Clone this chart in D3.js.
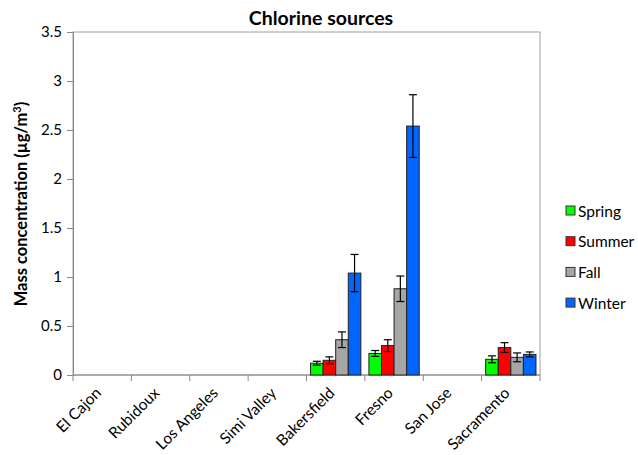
<!DOCTYPE html>
<html>
<head>
<meta charset="utf-8">
<script src="https://cdn.jsdelivr.net/npm/d3@7/dist/d3.min.js"></script>
<style>
  html, body { margin: 0; padding: 0; background: #fff; }
  svg { display: block; font-family: Lato, "Open Sans", sans-serif; }
</style>
</head>
<body>
<svg id="chart" width="638" height="455"></svg>
<script>
// Sites along the x axis
const sites = ["El Cajon", "Rubidoux", "Los Angeles", "Simi Valley", "Bakersfield", "Fresno", "San Jose", "Sacramento"];
const seasons = ["Spring", "Summer", "Fall", "Winter"];
const seasonColors = ["#00ff00", "#ff0000", "#a6a6a6", "#0066ff"];

// Mean chlorine concentration per season (null = no data at that site)
const spring = [null, null, null, null, 0.12, 0.22, null, 0.16];
const summer = [null, null, null, null, 0.15, 0.30, null, 0.28];
const fall   = [null, null, null, null, 0.36, 0.88, null, 0.18];
const winter = [null, null, null, null, 1.04, 2.54, null, 0.21];

// Error bar half-widths
const springErr = [null, null, null, null, 0.02, 0.03, null, 0.035];
const summerErr = [null, null, null, null, 0.035, 0.06, null, 0.05];
const fallErr   = [null, null, null, null, 0.08, 0.13, null, 0.045];
const winterErr = [null, null, null, null, 0.19, 0.32, null, 0.025];

const yTicks = [0, 0.5, 1, 1.5, 2, 2.5, 3, 3.5];

const seriesVals = [spring, summer, fall, winter];
const seriesErrs = [springErr, summerErr, fallErr, winterErr];

const svg = d3.select("#chart");
const plot = { left: 73, top: 32, right: 540, bottom: 375 };

const x = d3.scaleBand().domain(sites).range([plot.left, plot.right]).paddingInner(0).paddingOuter(0);
const inner = d3.scaleBand().domain(seasons).range([0, x.bandwidth()]).paddingOuter(0.32).paddingInner(0);
const y = d3.scaleLinear().domain([0, 3.5]).range([plot.bottom, plot.top]);

// Plot area frame
svg.append("rect")
  .attr("x", plot.left).attr("y", plot.top)
  .attr("width", plot.right - plot.left).attr("height", plot.bottom - plot.top)
  .attr("fill", "none").attr("stroke", "#a0a0a0").attr("stroke-width", 1);

// Y axis
const yAxis = svg.append("g")
  .attr("transform", `translate(${plot.left},0)`)
  .call(d3.axisLeft(y).tickValues(yTicks).tickSize(6).tickPadding(5).tickFormat(d3.format("")));
yAxis.select(".domain").attr("stroke", "#888");
yAxis.selectAll(".tick line").attr("stroke", "#888");
yAxis.selectAll(".tick text").attr("font-size", 15).attr("fill", "#000")
  .attr("font-family", "Lato, 'Open Sans', sans-serif");

// X axis with ticks at band boundaries
const xAxis = svg.append("g").attr("transform", `translate(0,${plot.bottom})`);
xAxis.append("line").attr("x1", plot.left).attr("x2", plot.right).attr("y1", 0).attr("y2", 0).attr("stroke", "#888");
const bounds = sites.map(s => x(s)).concat([plot.right]);
xAxis.selectAll("line.tk").data(bounds).enter().append("line")
  .attr("class", "tk")
  .attr("x1", d => d).attr("x2", d => d).attr("y1", 0).attr("y2", 6).attr("stroke", "#888");
xAxis.selectAll("text.lbl").data(sites).enter().append("text")
  .attr("class", "lbl")
  .attr("transform", d => `translate(${x(d) + x.bandwidth() / 2},${19}) rotate(-45)`)
  .attr("text-anchor", "end")
  .attr("font-size", 15.5)
  .text(d => d);

// Bars and error bars
const barData = [];
seriesVals.forEach((vals, si) => {
  vals.forEach((v, i) => {
    if (v !== null) barData.push({ site: sites[i], season: seasons[si], si, v, e: seriesErrs[si][i] });
  });
});

const bars = svg.append("g");
bars.selectAll("rect").data(barData).enter().append("rect")
  .attr("x", d => x(d.site) + inner(d.season))
  .attr("y", d => y(d.v))
  .attr("width", inner.bandwidth())
  .attr("height", d => y(0) - y(d.v))
  .attr("fill", d => seasonColors[d.si])
  .attr("stroke", "#222")
  .attr("stroke-width", 1);

const errs = svg.append("g").attr("stroke", "#000").attr("stroke-width", 1.2);
barData.forEach(d => {
  const cx = x(d.site) + inner(d.season) + inner.bandwidth() / 2;
  const top = y(d.v + d.e), bot = y(d.v - d.e);
  errs.append("line").attr("x1", cx).attr("x2", cx).attr("y1", top).attr("y2", bot);
  errs.append("line").attr("x1", cx - 4).attr("x2", cx + 4).attr("y1", top).attr("y2", top);
  errs.append("line").attr("x1", cx - 4).attr("x2", cx + 4).attr("y1", bot).attr("y2", bot);
});

// Title
svg.append("text")
  .attr("x", 321).attr("y", 25)
  .attr("text-anchor", "middle")
  .attr("font-size", 19.5).attr("font-weight", "bold")
  .text("Chlorine sources");

// Y axis title
svg.append("text")
  .attr("transform", `translate(27,${204}) rotate(-90)`)
  .attr("text-anchor", "middle")
  .attr("font-size", 16.5).attr("font-weight", "bold")
  .text("Mass concentration (µg/m")
  .append("tspan").attr("baseline-shift", "super").attr("font-size", 11).text("3")
  .select(function () { return this.parentNode; })
  .append("tspan").text(")");

// Legend
const legend = svg.append("g");
seasons.forEach((s, i) => {
  const ly = 211 + i * 30.7;
  legend.append("rect")
    .attr("x", 566).attr("y", ly - 5).attr("width", 9).attr("height", 9)
    .attr("fill", seasonColors[i]).attr("stroke", "#333").attr("stroke-width", 1);
  legend.append("text")
    .attr("x", 578).attr("y", ly + 5.5)
    .attr("font-size", 15.5)
    .text(s);
});
</script>
</body>
</html>
